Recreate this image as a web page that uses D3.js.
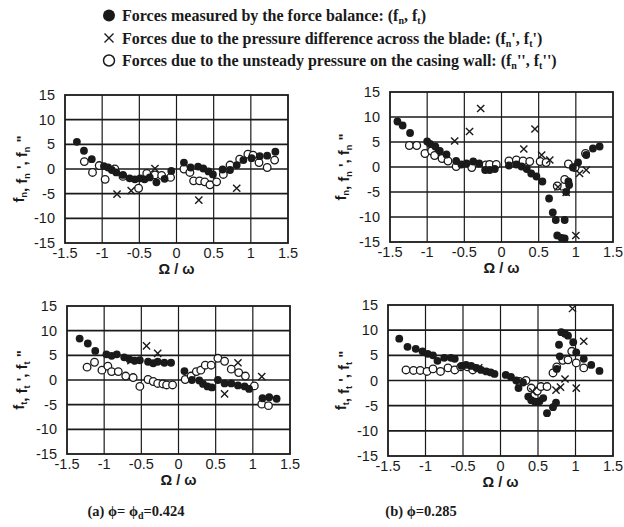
<!DOCTYPE html>
<html>
<head>
<meta charset="utf-8">
<script src="https://cdn.jsdelivr.net/npm/d3@7"></script>
<style>
  html, body { margin: 0; padding: 0; background: #fff; }
</style>
</head>
<body>
<div id="chart"></div>
<script>
//data
const xTicks = [-1.5, -1, -0.5, 0, 0.5, 1, 1.5];
const yTicks = [-15, -10, -5, 0, 5, 10, 15];

// (a) phi = 0.424, normal force
const balanceNA = [[-1.34,5.5],[-1.245,3.7],[-1.14,2.0],[-0.976,0.6],[-0.92,0.3],[-0.87,-0.2],[-0.81,-0.7],[-0.72,-1.2],[-0.63,-1.9],[-0.56,-2.1],[-0.49,-1.9],[-0.43,-2.1],[-0.36,-1.7],[-0.27,-2.7],[-0.16,-2.0],[-0.07,-0.4],[0.1,1.3],[0.19,0.3],[0.29,0.5],[0.36,0.1],[0.43,-0.5],[0.49,-1.1],[0.62,-0.1],[0.72,-0.2],[0.81,0.8],[0.9,1.8],[1.01,2.2],[1.12,2.6],[1.22,2.7],[1.33,3.5]];
const diffNA = [[-0.8,-5.1],[-0.61,-4.4],[-0.29,0.1],[0.3,-6.3],[0.81,-3.9]];
const casingNA = [[-1.24,1.5],[-1.13,-0.7],[-1.04,0.7],[-0.96,-2.1],[-0.83,0],[-0.72,-1.5],[-0.51,-3.9],[-0.4,-0.9],[-0.29,-1.2],[-0.2,-1.3],[-0.08,-1.7],[0.1,0],[0.18,-0.7],[0.23,-2.4],[0.31,-2.4],[0.38,-2.6],[0.45,-3.2],[0.54,-2.6],[0.63,-1.1],[0.72,0.8],[0.85,2.0],[0.96,3.0],[1.03,2.8],[1.11,1.3],[1.22,0.3],[1.32,1.8]];

// (b) phi = 0.285, normal force
const balanceNB = [[-1.4,9.1],[-1.33,8.3],[-1.23,6.8],[-1.0,5.1],[-0.96,4.6],[-0.89,4.1],[-0.83,3.2],[-0.74,2.5],[-0.61,1.2],[-0.54,0.5],[-0.47,0.7],[-0.38,1.1],[-0.3,0.7],[-0.22,-0.6],[-0.16,-0.6],[-0.09,-0.4],[0.1,0.3],[0.2,0.5],[0.27,0.1],[0.34,-0.4],[0.4,-1.3],[0.47,-1.9],[0.55,-2.9],[0.64,-6.3],[0.69,-9.1],[0.73,-10.6],[0.75,-13.7],[0.81,-14.2],[0.85,-14.3],[0.85,-10.6],[0.9,-2.9],[0.91,-3.6],[0.87,-5.0],[0.96,-0.1],[1.03,0.9],[1.14,2.4],[1.23,3.7],[1.32,4.1]];
const diffNB = [[-0.63,5.2],[-0.43,7.1],[-0.28,11.7],[0.45,7.6],[0.3,3.6],[0.54,2.4],[0.65,1.4],[0.76,-4.0],[0.87,-5.1],[1.0,-13.7],[1.05,-1.3],[1.14,-0.6]];
const casingNB = [[-1.24,4.3],[-1.14,4.3],[-1.03,2.7],[-0.94,3.2],[-0.9,2.3],[-0.8,1.7],[-0.72,1.2],[-0.61,0.1],[-0.4,-0.1],[-0.21,0.4],[-0.16,0.5],[-0.07,0.5],[0.1,1.2],[0.2,1.4],[0.29,1.2],[0.38,1.1],[0.52,1.1],[0.6,0.9],[0.75,-3.8],[0.9,0.6],[0.85,-2.5],[0.99,-0.1],[1.13,2.7]];

// (a) phi = 0.424, tangential force
const balanceTA = [[-1.33,8.4],[-1.22,7.4],[-1.12,5.9],[-0.97,5.2],[-0.9,4.9],[-0.83,5.2],[-0.73,4.6],[-0.66,4.2],[-0.59,3.9],[-0.52,4.0],[-0.41,3.7],[-0.34,3.4],[-0.28,3.7],[-0.19,3.5],[-0.1,3.5],[0.08,1.8],[0.18,0],[0.28,-0.1],[0.33,-0.8],[0.39,-1.3],[0.45,-1.5],[0.53,0],[0.62,-0.7],[0.71,-0.7],[0.8,-1.1],[0.89,-1.3],[0.95,-1.8],[1.13,-3.7],[1.22,-3.5],[1.32,-3.8]];
const diffTA = [[-0.43,6.9],[-0.28,5.4],[-0.64,3.9],[0.62,-2.8],[0.8,3.5],[1.12,0.7]];
const casingTA = [[-1.23,2.6],[-1.13,3.6],[-1.03,2.0],[-0.95,2.8],[-0.9,1.7],[-0.81,1.7],[-0.71,0.8],[-0.61,0.5],[-0.52,-1.3],[-0.41,0.1],[-0.34,-0.3],[-0.28,-0.7],[-0.21,-0.8],[-0.16,-1.0],[-0.08,-1.0],[0.09,0.1],[0.17,0.8],[0.24,1.7],[0.3,2.0],[0.36,3.0],[0.44,3.0],[0.53,4.4],[0.62,3.8],[0.71,2.2],[0.81,1.5],[0.9,0.8],[1.02,-1.2],[1.12,-4.9],[1.21,-5.2]];

// (b) phi = 0.285, tangential force
const balanceTB = [[-1.35,8.3],[-1.24,6.7],[-1.13,6.3],[-1.04,5.8],[-0.97,5.3],[-0.9,5.0],[-0.84,3.9],[-0.75,4.5],[-0.66,4.5],[-0.61,4.3],[-0.52,2.9],[-0.46,3.1],[-0.39,2.9],[-0.32,2.5],[-0.26,2.1],[-0.19,1.8],[-0.13,1.6],[-0.08,1.3],[0.07,1.1],[0.14,0.7],[0.21,0],[0.24,-1.5],[0.3,-0.4],[0.37,-3.2],[0.41,-3.9],[0.46,-4.2],[0.52,-4.1],[0.57,-3.5],[0.62,-6.5],[0.7,-5.3],[0.74,-4.4],[0.75,2.3],[0.79,4.8],[0.78,7.1],[0.81,9.6],[0.86,9.3],[0.9,8.9],[0.97,7.6],[1.01,5.6],[1.11,4.3],[1.21,3.1],[1.32,1.9]];
const diffTB = [[-0.29,2.5],[0.43,-2.2],[0.74,-1.9],[0.8,-1.3],[0.86,0.3],[0.96,14.3],[1.11,7.8],[1.01,-1.5]];
const casingTB = [[-1.26,2.1],[-1.16,2.0],[-1.07,2.0],[-0.98,1.8],[-0.9,2.3],[-0.8,1.8],[-0.7,2.5],[-0.61,2.1],[-0.53,2.7],[-0.44,2.7],[-0.37,2.1],[0.25,-0.2],[0.34,0],[0.41,-1.5],[0.49,-2.1],[0.54,-1.2],[0.62,-1.2],[0.7,1.5],[0.75,2.7],[0.83,4.0],[0.9,4.1],[0.95,5.8],[1.01,3.5],[1.11,2.5]];

const legendLabels = [
	['Forces measured by the force balance: (f', 'n', ', f', 't', ')'],
	['Forces due to the pressure difference across the blade: (f', 'n', "', f", 't', "')"],
	['Forces due to the unsteady pressure on the casing wall: (f', 'n', "'', f", 't', "'')"],
];

const panels = [
	{ box: [65, 288, 95, 243], sub: 'n', balance: balanceNA, diff: diffNA, casing: casingNA, labelX: 19 },
	{ box: [390, 613, 92, 242], sub: 'n', balance: balanceNB, diff: diffNB, casing: casingNB, labelX: 341 },
	{ box: [67, 290, 306, 454], sub: 't', balance: balanceTA, diff: diffTA, casing: casingTA, labelX: 19 },
	{ box: [388, 613, 305, 456], sub: 't', balance: balanceTB, diff: diffTB, casing: casingTB, labelX: 341 },
];

const ink = '#1a1a1a';
const sansFont = '"Liberation Sans", Arial, sans-serif';
const serifFont = '"Liberation Serif", "Times New Roman", serif';

const svg = d3.select('#chart')
	.append('svg')
	.attr('width', 624)
	.attr('height', 527);

//legend
const legend = svg.append('g').attr('class', 'legend');
legendLabels.forEach((parts, i) => {
	const y = 15.5 + i * 22.5;
	const row = legend.append('g').attr('transform', translation(109, y));
	if (i === 0) {
		row.append('circle').attr('r', 6).attr('fill', ink);
	} else if (i === 1) {
		row.append('path').attr('d', crossPath(4.5)).attr('stroke', ink).attr('stroke-width', 1.4);
	} else {
		row.append('circle').attr('r', 5.5).attr('fill', 'none').attr('stroke', ink).attr('stroke-width', 1.5);
	}
	const text = row.append('text')
		.attr('x', 13)
		.attr('dy', '0.35em')
		.attr('font-family', serifFont)
		.attr('font-weight', 'bold')
		.attr('font-size', 16)
		.attr('fill', ink);
	parts.forEach((p, j) => {
		const t = text.append('tspan').text(p);
		if (j % 2 === 1) t.attr('font-size', 10).attr('dy', 3);
		else if (j > 0) t.attr('dy', -3);
	});
});

//panels
panels.forEach(drawPanel);

function drawPanel(p) {
	const [left, right, top, bottom] = p.box;
	const x = d3.scaleLinear().domain([-1.5, 1.5]).range([left, right]);
	const y = d3.scaleLinear().domain([-15, 15]).range([bottom, top]);
	const g = svg.append('g').attr('class', 'panel');

	// grid
	g.selectAll('.vgrid').data(xTicks.slice(1, -1)).join('line')
		.attr('x1', d => x(d)).attr('x2', d => x(d))
		.attr('y1', top).attr('y2', bottom)
		.attr('stroke', ink).attr('stroke-width', 1.2);
	g.selectAll('.hgrid').data(yTicks.slice(1, -1)).join('line')
		.attr('x1', left).attr('x2', right)
		.attr('y1', d => y(d)).attr('y2', d => y(d))
		.attr('stroke', ink).attr('stroke-width', 1.6);
	g.append('rect')
		.attr('x', left).attr('y', top)
		.attr('width', right - left).attr('height', bottom - top)
		.attr('fill', 'none').attr('stroke', ink).attr('stroke-width', 1.8);

	// tick labels
	g.selectAll('.ylab').data(yTicks).join('text')
		.attr('x', left - 10).attr('y', d => y(d))
		.attr('dy', '0.35em')
		.attr('text-anchor', 'end')
		.attr('font-family', sansFont).attr('font-size', 14.5)
		.attr('fill', ink)
		.text(d => d);
	g.selectAll('.xlab').data(xTicks).join('text')
		.attr('x', d => x(d)).attr('y', bottom + 15)
		.attr('text-anchor', 'middle')
		.attr('font-family', sansFont).attr('font-size', 14.5)
		.attr('fill', ink)
		.text(d => d);

	// axis titles
	g.append('text')
		.attr('x', (left + right) / 2).attr('y', bottom + 31)
		.attr('text-anchor', 'middle')
		.attr('font-family', sansFont).attr('font-size', 14.5)
		.attr('font-weight', 'bold')
		.attr('fill', ink)
		.text('Ω / ω');

	const yt = g.append('text')
		.attr('transform', `translate(${p.labelX}, ${(top + bottom) / 2}) rotate(-90)`)
		.attr('text-anchor', 'middle')
		.attr('dy', '0.35em')
		.attr('font-family', sansFont).attr('font-size', 15)
		.attr('font-weight', 'bold')
		.attr('fill', ink);
	['', ' \'', ' "'].forEach((mark, i) => {
		yt.append('tspan').text(i === 0 ? 'f' : ', f');
		yt.append('tspan').attr('font-size', 9).attr('dy', 3).text(p.sub);
		yt.append('tspan').attr('dy', -3).text(mark);
	});

	// markers
	g.selectAll('.casing').data(p.casing).join('circle')
		.attr('cx', d => x(d[0])).attr('cy', d => y(d[1]))
		.attr('r', 3.8)
		.attr('fill', '#fff').attr('stroke', ink).attr('stroke-width', 1.3);
	g.selectAll('.balance').data(p.balance).join('circle')
		.attr('cx', d => x(d[0])).attr('cy', d => y(d[1]))
		.attr('r', 3.9)
		.attr('fill', ink);
	g.selectAll('.diff').data(p.diff).join('path')
		.attr('d', crossPath(3.6))
		.attr('transform', d => translation(x(d[0]), y(d[1])))
		.attr('stroke', ink).attr('stroke-width', 1.4);
}

//captions
const captions = [
	{ x: 136, parts: ['(a)  ϕ= ϕ', 'd', '=0.424'] },
	{ x: 421, parts: ['(b) ϕ=0.285'] },
];
captions.forEach(c => {
	const t = svg.append('text')
		.attr('x', c.x).attr('y', 516)
		.attr('text-anchor', 'middle')
		.attr('font-family', serifFont).attr('font-weight', 'bold')
		.attr('font-size', 14.5).attr('fill', ink);
	c.parts.forEach((p, j) => {
		const s = t.append('tspan').text(p);
		if (j === 1) s.attr('font-size', 10).attr('dy', 3);
		else if (j === 2) s.attr('dy', -3);
	});
});

//utils
function translation(x, y) {
	return `translate(${x}, ${y})`;
}

function crossPath(r) {
	return `M${-r},${-r}L${r},${r}M${-r},${r}L${r},${-r}`;
}
</script>
</body>
</html>
